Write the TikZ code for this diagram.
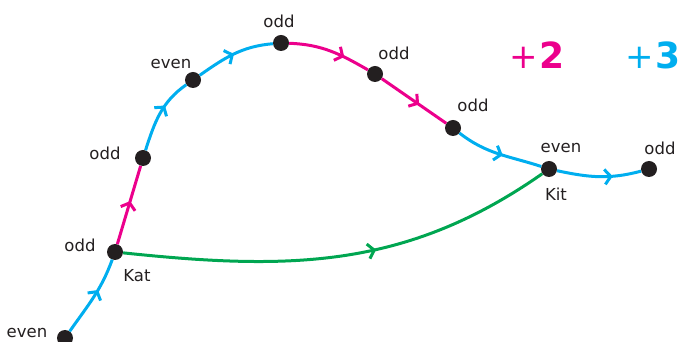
\documentclass[tikz,border=0pt]{standalone}
\usepackage{fontspec}
\setmainfont{DejaVu Sans}
\usetikzlibrary{arrows.meta, positioning, decorations.markings}
\definecolor{stepcyan}{RGB}{0,174,239}
\definecolor{steppink}{RGB}{236,0,140}
\definecolor{jumpgreen}{RGB}{0,166,81}
\definecolor{ink}{RGB}{35,31,32}

\begin{document}
\begin{tikzpicture}[x=1pt, y=1pt,
  dot/.style={circle, fill=ink, inner sep=0pt, minimum size=16pt},
  lbl/.style={text=ink, font=\fontsize{16.5}{18}\selectfont, inner sep=0pt},
  big/.style={font=\fontsize{36}{40}\selectfont, inner sep=0pt},
  flow/.style={line width=3pt, decoration={markings, mark=at position #1 with {\arrow{Straight Barb[length=6pt, width=15pt]}}}, postaction={decorate}},
  flow/.default=0.6]
  \useasboundingbox (0,0) rectangle (684,342);
  % stones
  \node[dot] (e0) at (65,4) {};
  \node[dot] (kat) at (115,90) {};
  \node[dot] (p2) at (143,184) {};
  \node[dot] (p3) at (193,262) {};
  \node[dot] (p4) at (281,299) {};
  \node[dot] (p5) at (375,268) {};
  \node[dot] (p6) at (453,214) {};
  \node[dot] (kit) at (549,173) {};
  \node[dot] (p8) at (649,173) {};
  % steps
  \draw[stepcyan, flow=0.6] (e0) to[out=55, in=250] (kat);
  \draw[steppink, flow=0.55] (kat) -- (p2);
  \draw[stepcyan, flow=0.62] (p2) to[out=72, in=215] (p3);
  \draw[stepcyan, flow=0.5] (p3) to[out=35, in=185] (p4);
  \draw[steppink, flow=0.68] (p4) to[out=-2, in=150] (p5);
  \draw[steppink, flow=0.58] (p5) -- (p6);
  \draw[stepcyan, flow=0.55] (p6) to[out=-38, in=162] (kit);
  \draw[stepcyan, flow=0.66] (kit) to[out=-12, in=195] (p8);
  \draw[jumpgreen, flow=0.58] (kat) to[out=-6, in=215] (kit);
  % parity labels
  \node[lbl] (t0) at (27,9) {even};
  \node[lbl] (t1) at (80,97) {odd};
  \node[lbl] (t2) at (105,189) {odd};
  \node[lbl] (t3) at (171,278) {even};
  \node[lbl] (t4) at (279,321) {odd};
  \node[lbl] (t5) at (394,289) {odd};
  \node[lbl] (t6) at (473,237) {odd};
  \node[lbl] (t7) at (561,194) {even};
  \node[lbl] (t8) at (660,194) {odd};
  \node[lbl] (katname) at (137,66) {Kat};
  \node[lbl] (kitname) at (556,148) {Kit};
  % step sizes
  \node[big, steppink] (plus2) at (537,287) {{\fontsize{34}{36}\selectfont+}\kern1pt\textbf{2}};
  \node[big, stepcyan] (plus3) at (653,287) {{\fontsize{34}{36}\selectfont+}\kern1pt\textbf{3}};
\end{tikzpicture}
\end{document}
